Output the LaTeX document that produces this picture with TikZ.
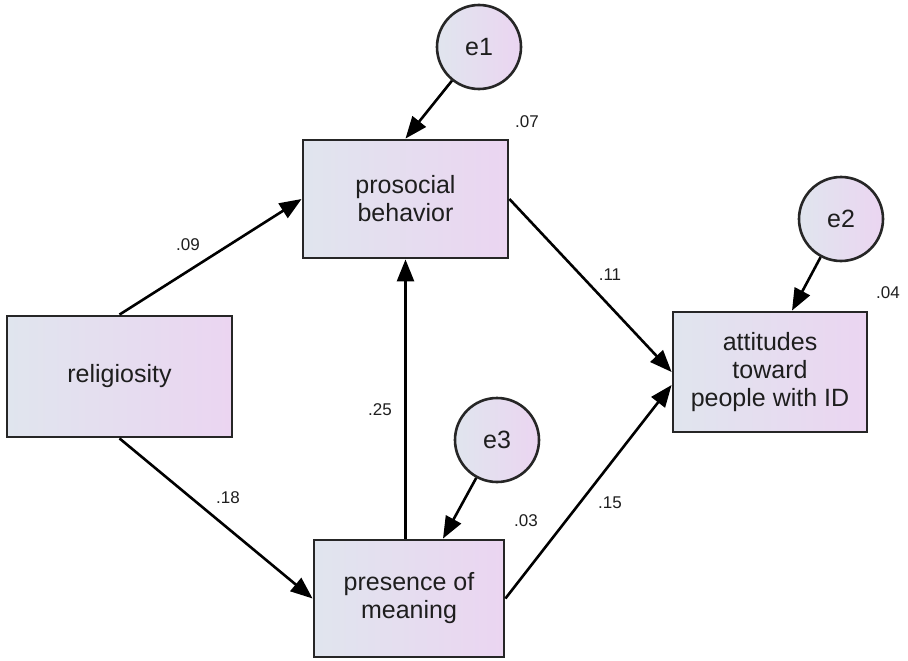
\documentclass[tikz,border=0pt]{standalone}
\usepackage{fontspec}
\setmainfont{Liberation Sans}
\usetikzlibrary{arrows.meta,calc}
\definecolor{fillL}{HTML}{E0E5EE}
\definecolor{fillR}{HTML}{EBD5F1}
\definecolor{edgec}{HTML}{262626}
\definecolor{txtc}{HTML}{1E1E1E}
\begin{document}
\begin{tikzpicture}[x=1pt,y=-1pt,
  obsbox/.style={rectangle,draw=edgec,line width=2.8pt,left color=fillL,right color=fillR,
    align=center,font=\fontsize{25}{28}\selectfont,text=txtc,inner sep=0pt},
  latc/.style={circle,draw=edgec,line width=2.6pt,left color=fillL,right color=fillR,
    minimum size=84pt,inner sep=0pt,font=\fontsize{25}{28}\selectfont,text=txtc},
  pathar/.style={line width=2.6pt,draw=black,-{Triangle[length=22pt,width=17pt]}},
  coef/.style={font=\fontsize{17}{19}\selectfont,text=txtc,inner sep=0pt}]
\useasboundingbox (0,0) rectangle (908,661);

\node[obsbox,minimum width=225pt,minimum height=121pt] (rel) at (119.5,376.5) {religiosity};
\node[obsbox,minimum width=205pt,minimum height=118pt] (pro) at (405.5,199) {prosocial\\behavior};
\node[obsbox,minimum width=194pt,minimum height=120pt] (att) at (770,372) {attitudes\\toward\\people with ID};
\node[obsbox,minimum width=190pt,minimum height=117pt] (pom) at (409,598.5) {presence of\\meaning};

\node[latc] (e1) at (479,47) {e1};
\node[latc] (e2) at (841,219) {e2};
\node[latc] (e3) at (497,440) {e3};

\draw[pathar] (e1) -- (pro.north);
\draw[pathar] (e2) -- ([xshift=22pt]att.north);
\draw[pathar] (e3) -- ([xshift=34pt]pom.north);
\draw[pathar] (rel.north) -- (pro.west);
\draw[pathar] (rel.south) -- (pom.west);
\draw[pathar] (pro.south |- pom.north) -- (pro.south);
\draw[pathar] (pro.east) -- (att.west);
\draw[pathar] (pom.east) -- ([yshift=-13pt]att.west);

\node[coef] (c09) at (188,245) {.09};
\node[coef] (c07) at (527,122) {.07};
\node[coef] (c11) at (610,275) {.11};
\node[coef] (c04) at (888,293) {.04};
\node[coef] (c25) at (380,410) {.25};
\node[coef] (c18) at (228,498) {.18};
\node[coef] (c03) at (526,521) {.03};
\node[coef] (c15) at (610,503) {.15};
\end{tikzpicture}
\end{document}
